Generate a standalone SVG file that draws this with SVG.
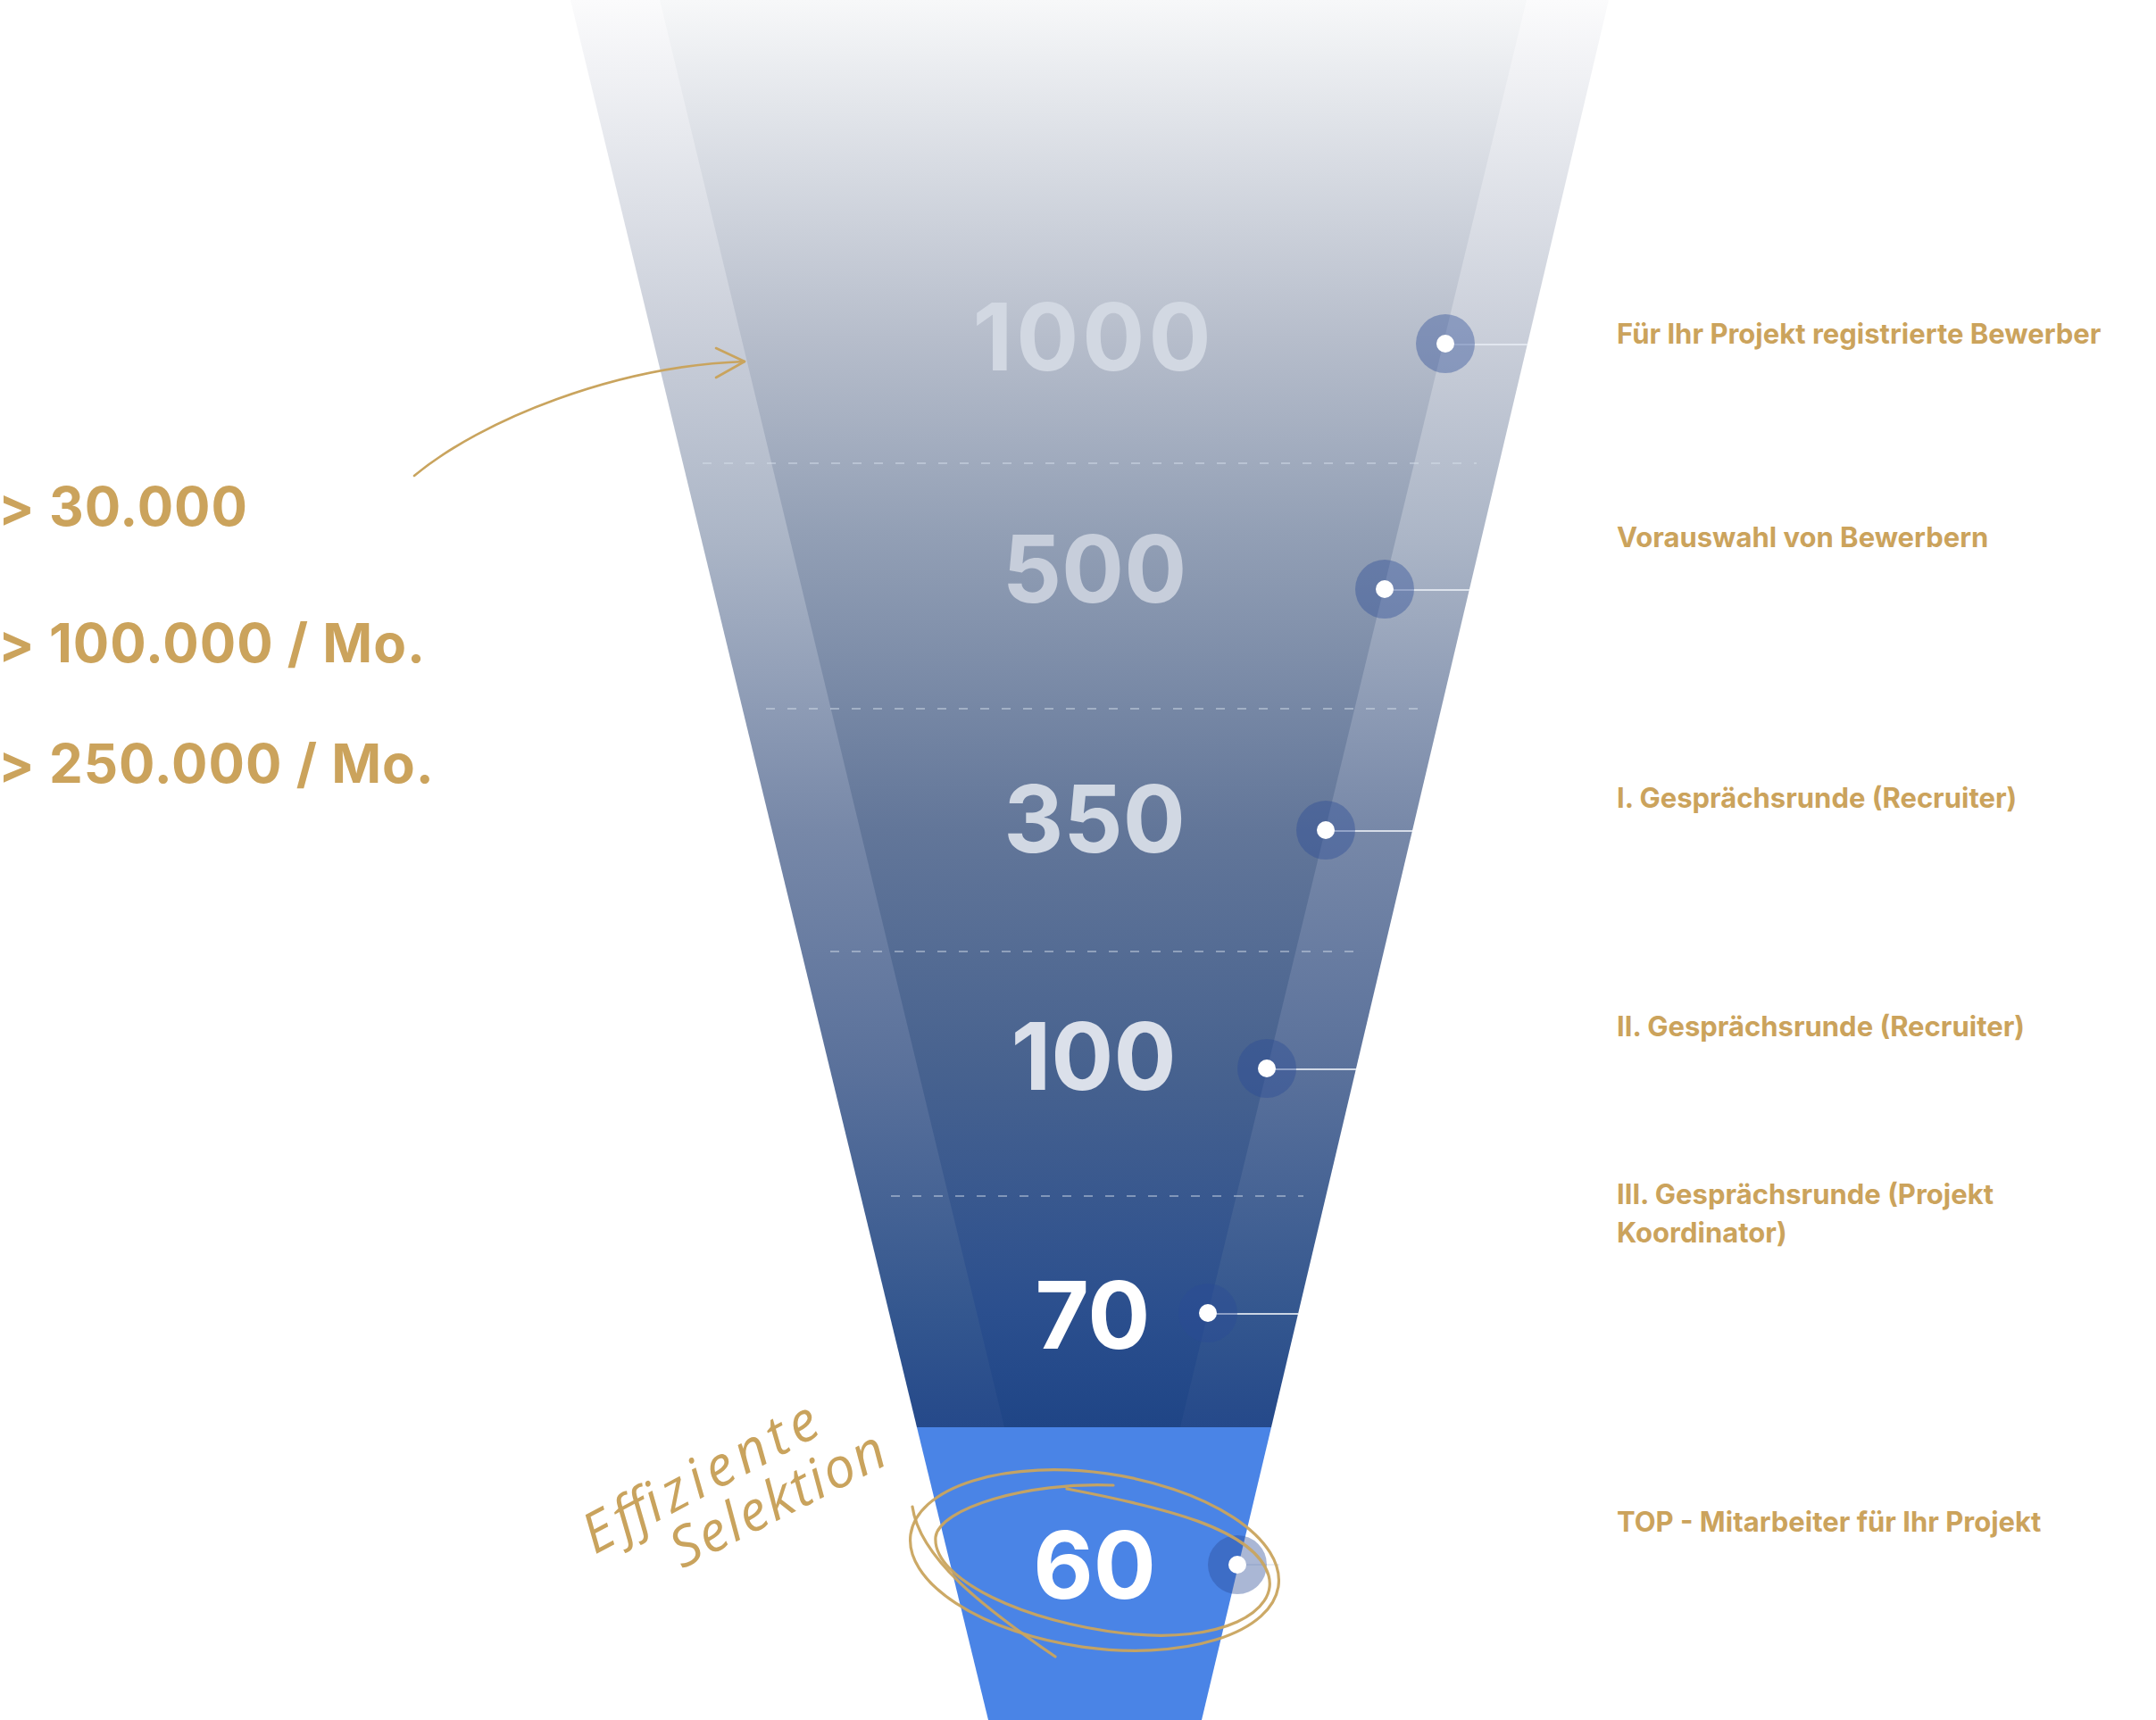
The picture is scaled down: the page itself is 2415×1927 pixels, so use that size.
<svg xmlns="http://www.w3.org/2000/svg" width="2415" height="1927" viewBox="0 0 2415 1927">
<defs>
<linearGradient id="gBand" gradientUnits="userSpaceOnUse" x1="0" y1="0" x2="0" y2="1599">
<stop offset="0" stop-color="#fbfbfc"/>
<stop offset="0.238" stop-color="#c9ced9"/>
<stop offset="0.375" stop-color="#acb6c7"/>
<stop offset="0.582" stop-color="#7788a8"/>
<stop offset="0.75" stop-color="#5a719b"/>
<stop offset="0.919" stop-color="#34578f"/>
<stop offset="1" stop-color="#25498a"/>
</linearGradient>
<linearGradient id="gInner" gradientUnits="userSpaceOnUse" x1="0" y1="0" x2="0" y2="1599">
<stop offset="0" stop-color="#f7f8f9"/>
<stop offset="0.238" stop-color="#b6bdcb"/>
<stop offset="0.375" stop-color="#929fb5"/>
<stop offset="0.582" stop-color="#627699"/>
<stop offset="0.75" stop-color="#47628f"/>
<stop offset="0.919" stop-color="#2b4f8e"/>
<stop offset="1" stop-color="#1f4586"/>
</linearGradient>
</defs>
<style>
.num{font-family:Inter,"Liberation Sans",sans-serif;font-weight:700;font-size:104px;text-anchor:middle}
.lbl{font-family:Inter,"Liberation Sans",sans-serif;font-weight:700;font-size:31px;fill:#cba35c}
.big{font-family:Inter,"Liberation Sans",sans-serif;font-weight:700;font-size:60px;fill:#cba35c;letter-spacing:1px}
.hand{font-family:"Open Sans","Liberation Sans",sans-serif;font-weight:400;font-style:italic;font-size:62px;fill:#c9a35d}
.ring{fill:#2b4c96;fill-opacity:0.4}
.dot{fill:#ffffff}
.lead{stroke:#e6ebf3;stroke-opacity:0.85;stroke-width:2;fill:none}
.dash{stroke:#dbe2ee;stroke-opacity:0.6;stroke-width:1.5;stroke-dasharray:10 14;fill:none}
.gold{stroke:#c9a45e;fill:none;stroke-linecap:round;stroke-linejoin:round}
</style>
<rect width="2415" height="1927" fill="#ffffff"/>
<g id="funnel">
<polygon points="639,0 1802,0 1424,1599 1027,1599" fill="url(#gBand)"/>
<polygon points="739,0 1710,0 1322,1599 1125,1599" fill="url(#gInner)"/>
<polygon points="1027,1599 1424,1599 1346,1927 1107,1927" fill="#4a84e6"/>
<line class="dash" x1="787" y1="519" x2="1654" y2="519"/>
<line class="dash" x1="858" y1="794" x2="1592" y2="794"/>
<line class="dash" x1="930" y1="1066" x2="1521" y2="1066"/>
<line class="dash" x1="998" y1="1340" x2="1460" y2="1340"/>
</g>
<g id="connectors">
<line class="lead" x1="1619" y1="386" x2="1711" y2="386"/>
<line class="lead" x1="1551" y1="661" x2="1646" y2="661"/>
<line class="lead" x1="1485" y1="931" x2="1582" y2="931"/>
<line class="lead" x1="1419" y1="1198" x2="1519" y2="1198"/>
<line class="lead" x1="1353" y1="1472" x2="1454" y2="1472"/>
<line class="lead" x1="1386" y1="1753" x2="1433" y2="1753"/>
<path class="gold" stroke-width="2.6" d="M464,533 C540,470 690,410 834,405"/>
<path class="gold" stroke-width="2.6" d="M802,390 L834,405 L802,423"/>
</g>
<g id="stage-1000">
<text class="num" x="1225" y="415" fill="#d2d8e2" letter-spacing="4">1000</text>
<circle class="ring" cx="1619" cy="385" r="33"/><circle class="dot" cx="1619" cy="385" r="10"/>
<text class="lbl" x="1811" y="385">Für Ihr Projekt registrierte Bewerber</text>
</g>
<g id="stage-500">
<text class="num" x="1226" y="675" fill="#c7cedb">500</text>
<circle class="ring" cx="1551" cy="660" r="33"/><circle class="dot" cx="1551" cy="660" r="10"/>
<text class="lbl" x="1811" y="613">Vorauswahl von Bewerbern</text>
</g>
<g id="stage-350">
<text class="num" x="1226" y="955" fill="#d1d8e3">350</text>
<circle class="ring" cx="1485" cy="930" r="33"/><circle class="dot" cx="1485" cy="930" r="10"/>
<text class="lbl" x="1811" y="905">I. Gesprächsrunde (Recruiter)</text>
</g>
<g id="stage-100">
<text class="num" x="1225" y="1221" fill="#dbe0ea">100</text>
<circle class="ring" cx="1419" cy="1197" r="33"/><circle class="dot" cx="1419" cy="1197" r="10"/>
<text class="lbl" x="1811" y="1161">II. Gesprächsrunde (Recruiter)</text>
</g>
<g id="stage-70">
<text class="num" x="1224" y="1511" fill="#ffffff">70</text>
<circle class="ring" cx="1353" cy="1471" r="33"/><circle class="dot" cx="1353" cy="1471" r="10"/>
<text class="lbl" x="1811" y="1349">III. Gesprächsrunde (Projekt</text>
<text class="lbl" x="1811" y="1392">Koordinator)</text>
</g>
<g id="stage-60">
<text class="num" x="1226" y="1791" fill="#ffffff">60</text>
<circle class="ring" cx="1386" cy="1753" r="33"/><circle class="dot" cx="1386" cy="1753" r="10"/>
<text class="lbl" x="1811" y="1716">TOP - Mitarbeiter für Ihr Projekt</text>
</g>
<g id="sources">
<text class="big" x="-2" y="589">&gt; 30.000</text>
<text class="big" x="-2" y="742">&gt; 100.000 / Mo.</text>
<text class="big" x="-2" y="877">&gt; 250.000 / Mo.</text>
</g>
<g id="annotation">
<text class="hand" transform="translate(666,1742) rotate(-28)" textLength="290" lengthAdjust="spacing">Effiziente</text>
<text class="hand" transform="translate(764,1758) rotate(-27)" textLength="262" lengthAdjust="spacing">Selektion</text>
<g class="gold" stroke-width="3.2" stroke-opacity="0.95">
<ellipse cx="1226" cy="1748" rx="208" ry="98" transform="rotate(8 1226 1748)"/>
<path d="M1247,1664 C1150,1660 1052,1690 1048,1722 C1044,1770 1150,1818 1260,1830 C1370,1842 1432,1805 1421,1765 C1405,1712 1300,1688 1195,1668"/>
<path d="M1022,1688 C1030,1745 1100,1800 1182,1856"/>
</g>
</g>
</svg>
